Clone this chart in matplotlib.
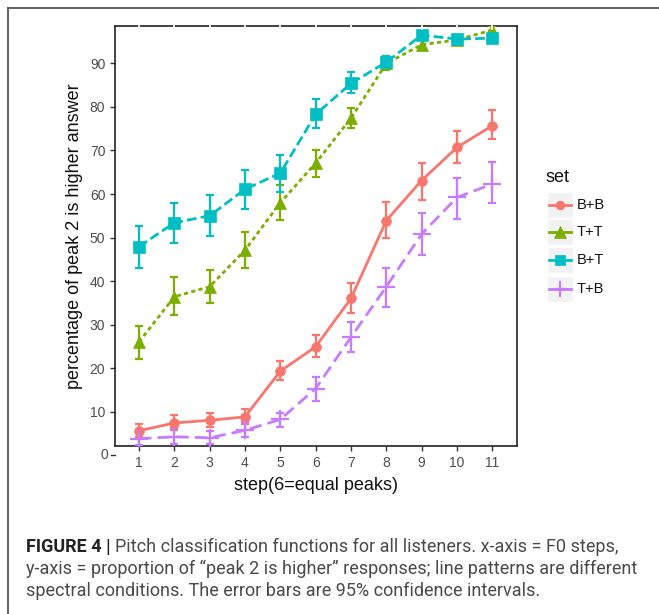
import numpy as np
import matplotlib
matplotlib.use("Agg")
from matplotlib import pyplot as plt
from matplotlib.lines import Line2D
from matplotlib.patches import Rectangle

steps = np.arange(1, 12)

bb = [5.6, 7.4, 8.0, 8.8, 19.3, 24.9, 36.0, 53.9, 63.1, 70.7, 75.7]
bb_lo = [4.1, 5.7, 6.4, 7.1, 17.2, 22.6, 32.6, 50.0, 58.6, 67.1, 72.6]
bb_hi = [7.1, 9.2, 9.7, 10.7, 21.7, 27.6, 39.5, 58.2, 67.2, 74.5, 79.3]

tt = [26.0, 36.4, 38.7, 47.1, 58.0, 67.1, 77.4, 90.0, 94.3, 95.4, 97.7]
tt_lo = [22.2, 32.3, 35.0, 42.9, 54.0, 64.0, 75.1, 88.6, 93.2, 94.5, 96.8]
tt_hi = [29.7, 41.0, 42.5, 51.2, 62.1, 70.0, 79.7, 91.4, 95.4, 96.3, 98.6]

bt = [47.9, 53.4, 55.0, 61.1, 64.8, 78.3, 85.4, 90.3, 96.5, 95.6, 95.8]
bt_lo = [43.1, 48.7, 50.3, 56.5, 60.5, 75.1, 83.3, 88.8, 95.5, 94.6, 94.8]
bt_hi = [52.6, 58.0, 59.8, 65.5, 68.9, 81.8, 88.0, 91.8, 97.5, 96.6, 96.8]

tb = [3.8, 4.2, 4.0, 5.7, 8.2, 15.3, 27.1, 38.7, 50.8, 59.2, 62.3]
tb_lo = [2.3, 2.5, 2.5, 4.1, 6.5, 12.5, 23.6, 34.1, 46.0, 54.3, 58.0]
tb_hi = [5.3, 6.2, 5.5, 7.7, 9.6, 18.0, 30.6, 43.1, 55.7, 63.7, 67.4]

set_names = ["B+B", "T+T", "B+T", "T+B"]
colors = ["#F8766D", "#7CAE00", "#00BFC4", "#C77CFF"]
markers = ["o", "^", "s", "+"]
msizes = [7, 9, 8, 13]
dashes = [None, (1.5, 1.2), (3.5, 1.5), (4.5, 2.2)]

series = [(bb, bb_lo, bb_hi), (tt, tt_lo, tt_hi), (bt, bt_lo, bt_hi), (tb, tb_lo, tb_hi)]

plt.rcParams['font.family'] = ['Liberation Sans', 'DejaVu Sans']
fig = plt.figure(figsize=(6.59, 6.14), dpi=100)

# outer frame (cropped at right / bottom)
fig.add_artist(Line2D([8 / 659, 8 / 659], [0, 1 - 8 / 614], transform=fig.transFigure,
                      color="#555555", lw=1.3))
fig.add_artist(Line2D([8 / 659, 1], [1 - 8 / 614, 1 - 8 / 614], transform=fig.transFigure,
                      color="#555555", lw=1.3))

ax = fig.add_axes([115 / 659, 1 - 446 / 614, 402 / 659, 420 / 614])

for (vals, lo, hi), name, c, m, ms, d in zip(series, set_names, colors, markers, msizes, dashes):
    vals = np.array(vals)
    yerr = [vals - np.array(lo), np.array(hi) - vals]
    ax.errorbar(steps, vals, yerr=yerr, fmt="none", ecolor=c, elinewidth=1.6,
                capsize=3.2, capthick=1.6, zorder=3)
    line, = ax.plot(steps, vals, color=c, lw=2.0, marker=m, markersize=ms,
                    markeredgewidth=1.6 if m == "+" else 0.5, markeredgecolor=c, zorder=4)
    if d is not None:
        line.set_dashes(d)

ax.set_xlim(0.32, 11.7)
ax.set_ylim(2.1, 98.6)
ax.set_xticks(steps)
ax.set_yticks(np.arange(10, 100, 10))
ax.tick_params(axis="both", colors="#333333", labelcolor="#4D4D4D", labelsize=10,
               length=3.5, width=1)
for sp in ax.spines.values():
    sp.set_color("#222222")
    sp.set_linewidth(1.2)

# white grid lines break the top border at each step
for s in steps:
    ax.plot([s, s], [97.9, 99.2], color="white", lw=1.2, clip_on=False, zorder=5)

# the "0" tick sits below the panel
ax.plot([0.32 - 0.1, 0.32], [0, 0], color="#333333", lw=1, clip_on=False)
ax.text(0.32 - 0.2, 0, "0", ha="right", va="center", color="#4D4D4D", fontsize=10,
        clip_on=False)

ax.set_xlabel("step(6=equal peaks)", fontsize=13, color="#111111", labelpad=5)
ax.set_ylabel("percentage of peak 2 is higher answer", fontsize=13, color="#111111",
              labelpad=5)

# legend
fig.text(546 / 659, 1 - 177 / 614, "set", fontsize=13, color="#111111", va="center")
key_y = [205, 232, 260, 289]
for name, c, m, ms, ky in zip(set_names, colors, markers, msizes, key_y):
    fig.add_artist(Rectangle((547 / 659, 1 - (ky + 13) / 614), 26 / 659, 26 / 614,
                             transform=fig.transFigure, facecolor="#F2F2F2",
                             edgecolor="white", lw=1))
    fig.add_artist(Line2D([549 / 659, 571 / 659], [1 - ky / 614, 1 - ky / 614],
                          transform=fig.transFigure, color=c, lw=2.0))
    fig.add_artist(Line2D([560 / 659], [1 - ky / 614], transform=fig.transFigure,
                          color=c, marker=m, markersize=ms * 0.9, markeredgecolor=c,
                          markeredgewidth=1.6 if m == "+" else 0.5, lw=0))
    fig.text(577 / 659, 1 - ky / 614, name, fontsize=10.5, color="#111111", va="center")

# caption
cap_x = 26 / 659
t0 = fig.text(cap_x, 1 - 547 / 614, "FIGURE 4 |", fontsize=13, fontweight="bold",
              color="#222222", va="center", family="Roboto")
ax.annotate("Pitch classification functions for all listeners. x-axis = F0 steps,",
            xy=(1, 0.5), xycoords=t0, xytext=(3, 0), textcoords="offset points",
            fontsize=13, color="#4a4a4a", va="center", ha="left", family="Roboto",
            annotation_clip=False)
fig.text(cap_x, 1 - 569 / 614,
         "y-axis = proportion of \u201cpeak 2 is higher\u201d responses; line patterns are different",
         fontsize=13, color="#4a4a4a", va="center", family="Roboto")
fig.text(cap_x, 1 - 591 / 614,
         "spectral conditions. The error bars are 95% confidence intervals.",
         fontsize=13, color="#4a4a4a", va="center", family="Roboto")

fig.savefig("out.png", dpi=100)
